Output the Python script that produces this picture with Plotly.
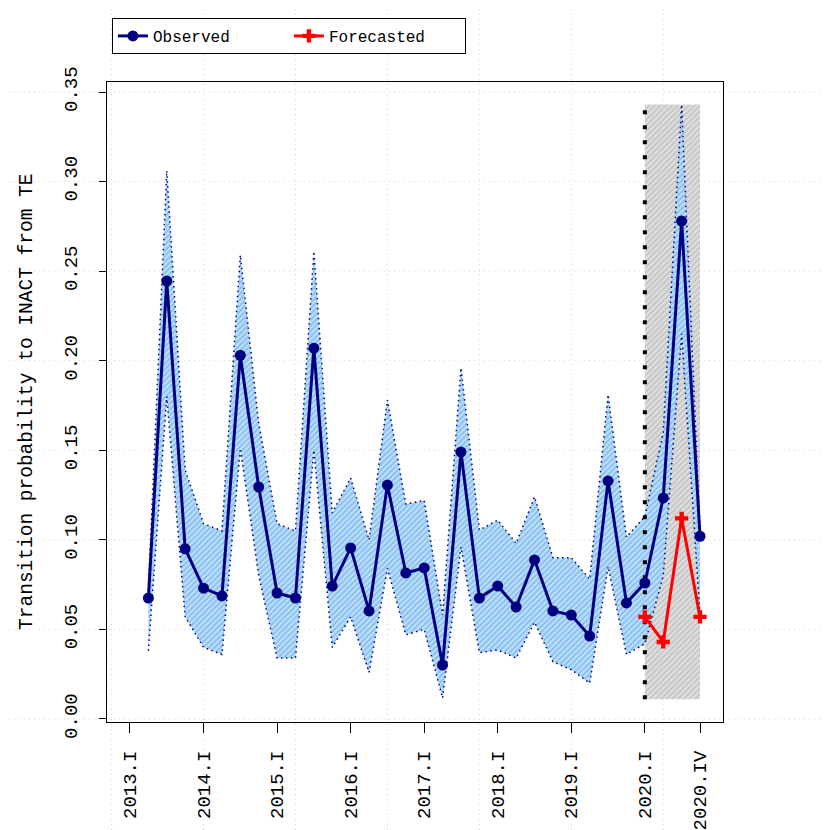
import plotly.graph_objects as go

# quarter index: 2013.I = 0 ... 2020.IV = 31
obs_t = list(range(1, 32))
observed = [0.0675, 0.2445, 0.095, 0.073, 0.0687, 0.203, 0.1295, 0.0703,
            0.0675, 0.207, 0.0742, 0.0955, 0.0603, 0.1306, 0.0815, 0.0843,
            0.0301, 0.149, 0.0675, 0.0742, 0.0625, 0.0888, 0.0603, 0.058,
            0.0463, 0.1329, 0.0648, 0.0759, 0.1234, 0.278, 0.102]
upper = [0.072, 0.306, 0.139, 0.109, 0.105, 0.259, 0.165, 0.109,
         0.105, 0.261, 0.115, 0.1345, 0.100, 0.178, 0.120, 0.122,
         0.058, 0.196, 0.1055, 0.111, 0.098, 0.124, 0.090, 0.090,
         0.078, 0.181, 0.1015, 0.113, 0.160, 0.343, 0.105]
lower = [0.038, 0.180, 0.057, 0.040, 0.036, 0.151, 0.080, 0.034,
         0.034, 0.150, 0.040, 0.057, 0.026, 0.084, 0.047, 0.050,
         0.0117, 0.096, 0.037, 0.0385, 0.034, 0.054, 0.032, 0.0275,
         0.020, 0.085, 0.036, 0.042, 0.080, 0.215, 0.058]

fc_t = [28, 29, 30, 31]
forecast = [0.057, 0.043, 0.112, 0.057]

# forecast window shading
shade_t = [28, 31]
shade_y = [0.011, 0.343]

tick_t = [0, 4, 8, 12, 16, 20, 24, 28, 31]
tick_text = ['2013.I', '2014.I', '2015.I', '2016.I', '2017.I', '2018.I',
             '2019.I', '2020.I', '2020.IV']
grid_t = [-1, 4, 9, 14, 19, 24, 29]
grid_y = [0, 0.05, 0.10, 0.15, 0.20, 0.25, 0.30, 0.35]

FONT = 'Liberation Mono'
NAVY = '#000080'

fig = go.Figure()

# grey hatched forecast window
fig.add_trace(go.Scatter(
    x=[shade_t[0], shade_t[1], shade_t[1], shade_t[0], shade_t[0]],
    y=[shade_y[0], shade_y[0], shade_y[1], shade_y[1], shade_y[0]],
    mode='lines', line=dict(width=0), fill='toself', fillcolor='rgba(0,0,0,0)',
    fillpattern=dict(shape='/', fgcolor='#a8a8a8', bgcolor='#dedede', size=4, solidity=0.45),
    showlegend=False, hoverinfo='skip'))

# confidence band
fig.add_trace(go.Scatter(
    x=obs_t, y=upper, mode='lines',
    line=dict(color=NAVY, width=1.5, dash='1.5px,3.5px'),
    showlegend=False, hoverinfo='skip'))
fig.add_trace(go.Scatter(
    x=obs_t, y=lower, mode='lines',
    line=dict(color=NAVY, width=1.5, dash='1.5px,3.5px'),
    fill='tonexty', fillcolor='rgba(0,0,0,0)',
    fillpattern=dict(shape='/', fgcolor='#4a9fec', bgcolor='#c2e0f8', size=4, solidity=0.5),
    showlegend=False, hoverinfo='skip'))

# vertical dotted line at start of forecast
fig.add_trace(go.Scatter(
    x=[shade_t[0], shade_t[0]], y=shade_y, mode='lines',
    line=dict(color='black', width=4, dash='4px,11px'),
    showlegend=False, hoverinfo='skip'))

fig.add_trace(go.Scatter(
    x=obs_t, y=observed, mode='lines+markers', name='Observed',
    line=dict(color=NAVY, width=3),
    marker=dict(color=NAVY, size=11, symbol='circle')))
fig.add_trace(go.Scatter(
    x=fc_t, y=forecast, mode='lines+markers', name='Forecasted',
    line=dict(color='red', width=3),
    marker=dict(color='red', size=11, symbol='cross')))

# dotted grid across the whole page
xr = [-1.25, 32.25]
yr = [-0.0017, 0.3556]
for g in grid_t:
    px_ = (g - xr[0]) / (xr[1] - xr[0])
    fig.add_shape(type='line', xref='paper', yref='paper', x0=px_, x1=px_,
                  y0=-0.2, y1=1.2, layer='below',
                  line=dict(color='#d3d3d3', width=1, dash='1px,4px'))
for g in grid_y:
    py_ = (g - yr[0]) / (yr[1] - yr[0])
    fig.add_shape(type='line', xref='paper', yref='paper', x0=-0.2, x1=1.2,
                  y0=py_, y1=py_, layer='below',
                  line=dict(color='#d3d3d3', width=1, dash='1px,4px'))

fig.add_annotation(text='Transition probability to INACT from TE',
                   xref='paper', yref='paper', x=-0.13, y=0.5, textangle=-90,
                   xanchor='center', yanchor='middle',
                   showarrow=False, font=dict(family=FONT, size=19.5, color='black'))

# page body adds an 8px offset, so the figure is drawn 8px smaller
fig.update_layout(
    width=822, height=822,
    margin=dict(l=99, r=107, t=74, b=108, autoexpand=False),
    paper_bgcolor='white', plot_bgcolor='white',
    font=dict(family=FONT, size=19, color='black'),
    legend=dict(orientation='h', x=0.008, y=1.1, xanchor='left', yanchor='top',
                bordercolor='black', borderwidth=1, bgcolor='white',
                traceorder='normal',
                font=dict(family=FONT, size=16),
                entrywidth=131, entrywidthmode='pixels'),
    xaxis=dict(range=xr, tickvals=tick_t, ticktext=tick_text, tickangle=-90,
               showgrid=False, zeroline=False, showline=True, mirror=True,
               linecolor='black', linewidth=1, ticks='outside', ticklen=10,
               tickcolor='black', ticklabelstandoff=10, automargin=False),
    yaxis=dict(range=yr, tickvals=grid_y, tickformat='.2f', tickangle=-90,
               showgrid=False, zeroline=False, showline=True, mirror=True,
               linecolor='black', linewidth=1, ticks='outside', ticklen=7,
               tickcolor='black', ticklabelstandoff=14, automargin=False),
)

fig.write_html('out.html')
